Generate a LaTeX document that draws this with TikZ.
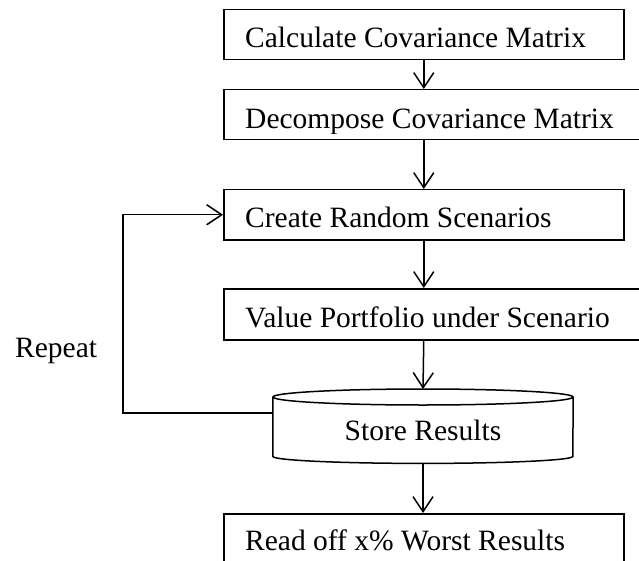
\documentclass[tikz,border=0pt]{standalone}
\usepackage{fontspec}
\setmainfont{Liberation Serif}
\usetikzlibrary{arrows.meta}
\begin{document}
\begin{tikzpicture}[x=1pt,y=-1pt,
  every node/.style={font=\fontsize{29.5pt}{34pt}\selectfont},
  box/.style={draw, line width=1.5pt, rectangle, inner sep=0pt, anchor=north west},
  conn/.style={line width=1.5pt, -{Straight Barb[length=15pt,width=20pt,line width=1.5pt]}},
  lbl/.style={anchor=base west, inner sep=0pt},
  cyl/.style={line width=1.5pt}
]
\clip (0,0) rectangle (639,561);
% boxes
\node[box, minimum width=400pt, minimum height=50pt] (b1) at (223,9) {};
\node[box, minimum width=440pt, minimum height=50pt] (b2) at (223,89) {};
\node[box, minimum width=400pt, minimum height=50pt] (b3) at (223,189) {};
\node[box, minimum width=440pt, minimum height=51pt] (b4) at (223,288) {};
\node[box, minimum width=400pt, minimum height=60pt] (b5) at (223,513) {};
% cylinder (store)
\node[minimum width=300pt, minimum height=74pt, inner sep=0pt, anchor=north] (st) at (423,389) {};
\draw[cyl] ([yshift=-8pt]st.north) ellipse [x radius=150pt, y radius=8pt];
\draw[cyl] ([yshift=-8pt]st.north west) -- ([yshift=7pt]st.south west)
  arc[start angle=180, end angle=360, x radius=150pt, y radius=7pt]
  -- ([yshift=-8pt]st.north east);
% texts
\node[lbl] (t1) at (245,48) {Calculate Covariance Matrix};
\begin{scope}
\clip (223,89) rectangle (700,134);
\node[lbl] (t2) at (245,129) {Decompose Covariance Matrix};
\end{scope}
\node[lbl] (t3) at (245,228) {Create Random Scenarios};
\node[lbl] (t4) at (245,327) {Value Portfolio under Scenario};
\node[anchor=base, inner sep=0pt] (t5) at (423,440) {Store Results};
\node[lbl] (t6) at (245,550) {Read off x\% Worst Results};
\node[lbl] (rep) at (15,357) {Repeat};
% connectors
\draw[conn] (b1.south) -- (b1.south |- b2.north);
\draw[conn] (b1.south |- b2.south) -- (b1.south |- b3.north);
\draw[conn] (b3.south) -- (b3.south |- b4.north);
\draw[conn] (b3.south |- b4.south) -- (st.north);
\draw[conn] (st.south) -- (st.south |- b5.north);
\coordinate (fb) at ([yshift=-24pt]st.north west);
\coordinate (loop) at (123,413);
\draw[conn] (fb) -- (loop) |- (b3.west);
\end{tikzpicture}
\end{document}
